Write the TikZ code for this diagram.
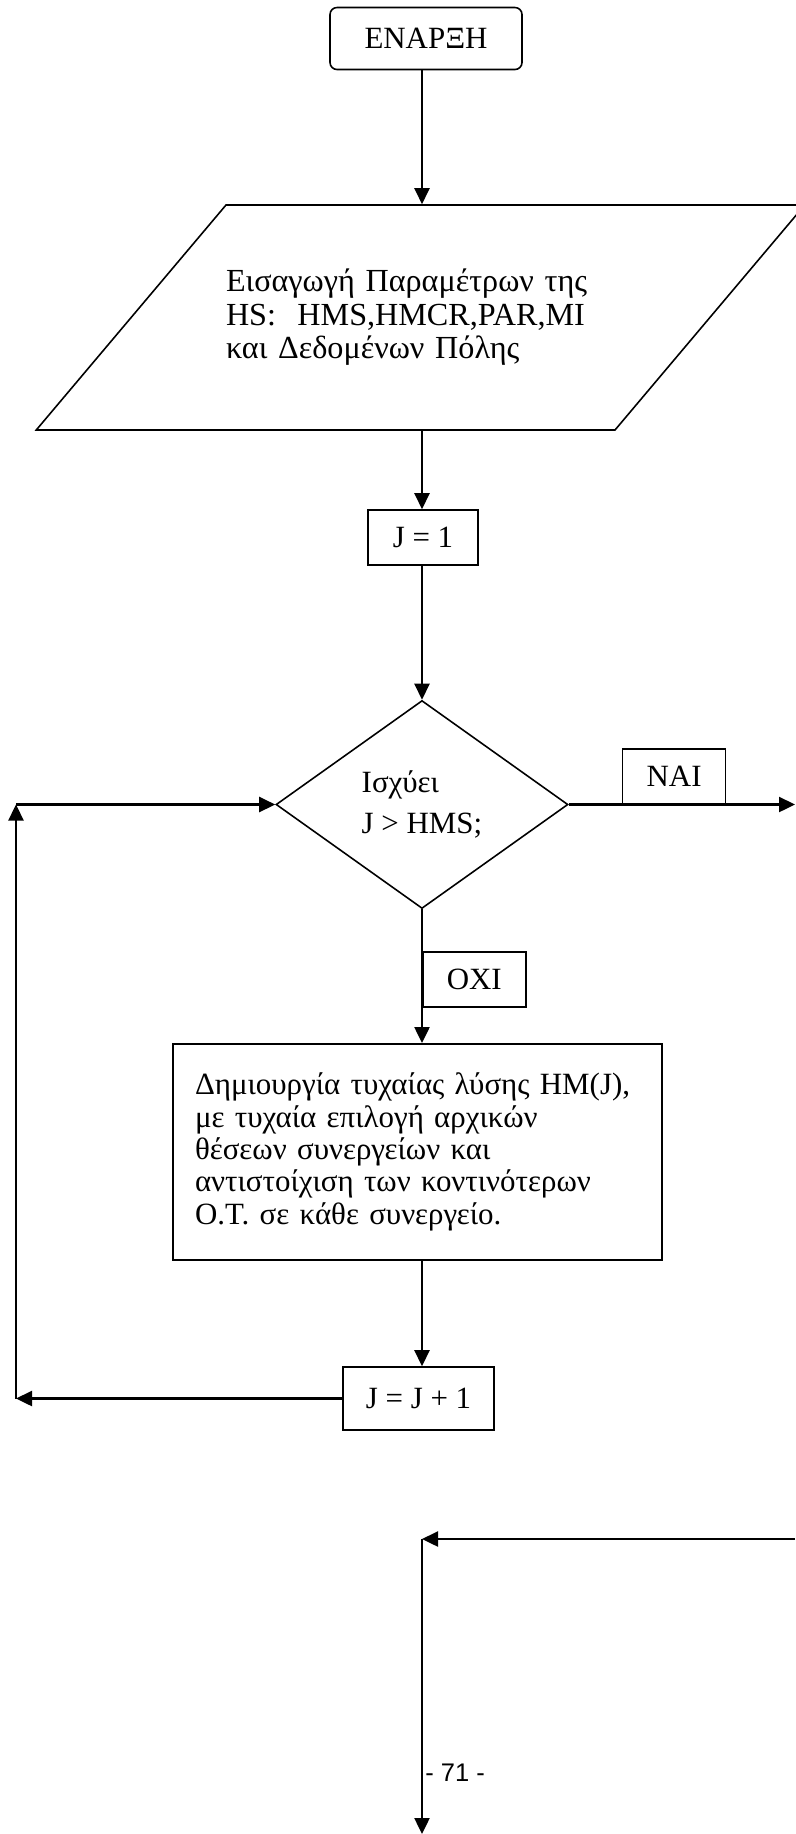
\documentclass[tikz,border=0pt]{standalone}
\usepackage{fontspec}
\setmainfont{Liberation Serif}
\newfontfamily\pagefont{Liberation Sans}
\usetikzlibrary{arrows.meta,shapes.geometric,positioning,calc}
\lineskiplimit=-20pt

\begin{document}
\begin{tikzpicture}[
    box/.style={draw, line width=0.9pt, minimum height=1.1cm, inner sep=0pt, font=\fontsize{17.6}{21}\selectfont},
    startbox/.style={box, rounded corners=4pt, minimum width=3.84cm, minimum height=1.24cm},
    iobox/.style={draw, line width=0.9pt, trapezium, trapezium left angle=27, trapezium right angle=153, trapezium stretches body, minimum width=14.98cm, minimum height=4.5cm, text width=7.78cm, align=left, inner sep=0pt, font=\fontsize{18.3}{19.1}\selectfont},
    decbox/.style={draw, line width=0.9pt, diamond, minimum width=5.84cm, minimum height=4.16cm, align=left, inner sep=0pt, font=\fontsize{17.6}{23.3}\selectfont},
    procbox/.style={box, line width=1.1pt, minimum width=9.78cm, minimum height=4.32cm, text width=8.9cm, align=left, font=\fontsize{17.6}{18.4}\selectfont},
    tag/.style={box, minimum width=2.06cm},
    arr/.style={-{Triangle[length=0.32cm,width=0.3cm]}, line width=1.35pt}
]
\useasboundingbox (0,0) rectangle (15.9,-36.68);

\node[startbox] (start) at (8.52,-0.77) {ΕΝΑΡΞΗ};
\node[iobox] (input) at (8.41,-6.35) {Εισαγωγή Παραμέτρων της\\HS:~ HMS,HMCR,PAR,MI\\και Δεδομένων Πόλης};
\node[box, minimum width=2.2cm] (j1) at (8.46,-10.75) {J = 1};
\node[decbox] (dec) at (8.44,-16.09) {Ισχύει\\J > HMS;};
\node[tag, above right=0cm and 1.06cm of dec.east] (yes) {ΝΑΙ};
\node[tag, below right=0.84cm and 0cm of dec.south] (no) {ΟΧΙ};
\node[procbox] (proc) at (8.35,-23.04) {Δημιουργία τυχαίας λύσης HM(J),\\με τυχαία επιλογή αρχικών\\θέσεων συνεργείων και\\αντιστοίχιση των κοντινότερων\\Ο.Τ. σε κάθε συνεργείο.};
\node[box, minimum width=3.02cm, minimum height=1.26cm] (inc) at (8.37,-27.97) {J = J + 1};

\coordinate (exitR) at (15.9,-16.09);
\coordinate (loopT) at (0.32,-16.09);
\coordinate (loopB) at (inc.west -| loopT);
\coordinate (backR) at (15.9,-30.78);
\coordinate (backC) at (8.44,-30.78);
\coordinate (downEnd) at (8.44,-36.68);
\node[font=\pagefont\fontsize{14.5}{17}\selectfont, anchor=west, inner sep=0pt] (page) at (8.5,-35.46) {- 71 -};

\draw[arr] (start.south -| dec.north) -- (input.north -| dec.north);
\draw[arr] (input.south -| dec.north) -- (j1.north -| dec.north);
\draw[arr] (j1.south -| dec.north) -- (dec.north);
\draw[arr] (dec.east) -- (exitR);
\draw[arr] (dec.south) -- (proc.north -| dec.south);
\draw[arr] (proc.south -| dec.south) -- (inc.north -| dec.south);
\draw[arr] (inc.west) -- (loopB);
\draw[arr] (loopB) -- (loopT);
\draw[arr] (loopT) -- (dec.west);
\draw[arr] (backR) -- (backC);
\draw[arr] (backC) -- (downEnd);
\end{tikzpicture}
\end{document}
